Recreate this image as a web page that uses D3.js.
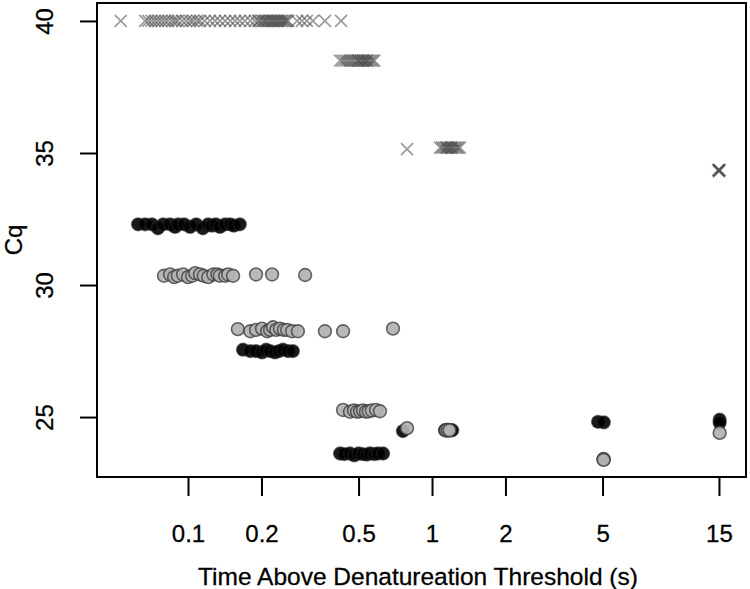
<!DOCTYPE html>
<html><head><meta charset="utf-8">
<script src="https://cdnjs.cloudflare.com/ajax/libs/d3/7.8.5/d3.min.js"></script>
<style>body{margin:0;background:#fff}svg{display:block}</style>
</head><body>
<svg id="c" width="750" height="589"></svg>
<script>
// ---- data ----
const crossTime = [0.053,0.0667,0.0687,0.0709,0.0732,0.0755,0.0779,0.0805,0.083,0.086,0.0885,0.0908,0.0946,0.0983,0.102,0.105,0.109,0.112,0.117,0.123,0.129,0.135,0.142,0.149,0.156,0.163,0.171,0.18,0.188,0.194,0.201,0.207,0.213,0.217,0.223,0.23,0.236,0.243,0.25,0.257,0.196,0.204,0.21,0.22,0.226,0.233,0.24,0.247,0.254,0.28,0.293,0.307,0.325,0.364,0.424,
  0.42,0.43,0.44,0.45,0.46,0.47,0.48,0.49,0.5,0.51,0.52,0.53,0.54,0.55,0.56,0.57,0.58,0.5,0.52,0.54,
  0.79,1.08,1.1,1.12,1.14,1.16,1.18,1.2,1.22,1.24,1.26,1.28,1.3,1.15,1.2,
  15,15,15.1,14.9,15];
const crossCq = [40,40,40,40,40,40,40,40,40,40,40,40,40,40,40,40,40,40,40,40,40,40,40,40,40,40,40,40,40,40,40,40,40,40,40,40,40,40,40,40,40,40,40,40,40,40,40,40,40,40,40,40,40,40,40,
  38.5,38.5,38.5,38.5,38.5,38.5,38.5,38.5,38.5,38.5,38.5,38.5,38.5,38.5,38.5,38.5,38.5,38.5,38.5,38.5,
  35.15,35.2,35.2,35.2,35.2,35.2,35.2,35.2,35.2,35.2,35.2,35.2,35.2,35.2,35.2,
  34.35,34.35,34.35,34.35,34.3];

const blackTime = [0.0624,0.0667,0.0711,0.0753,0.0791,0.0844,0.0885,0.091,0.0964,0.102,0.108,0.115,0.121,0.125,0.13,0.135,0.142,0.149,0.154,0.163,
  0.168,0.18,0.19,0.201,0.209,0.217,0.227,0.236,0.245,0.257,0.269,
  0.42,0.437,0.461,0.48,0.5,0.52,0.54,0.557,0.58,0.6,0.63,
  0.76,1.13,1.16,1.19,1.21,
  4.79,5.06,5.05,
  15.1,15.1];
const blackCq = [32.3,32.3,32.3,32.15,32.3,32.3,32.2,32.3,32.3,32.2,32.3,32.15,32.3,32.25,32.3,32.2,32.3,32.3,32.25,32.3,
  27.55,27.5,27.5,27.45,27.55,27.5,27.45,27.5,27.55,27.5,27.5,
  23.62,23.6,23.62,23.55,23.62,23.6,23.58,23.62,23.6,23.62,23.62,
  24.47,24.5,24.48,24.5,24.5,
  24.82,24.8,23.4,
  24.9,24.78];

const grayTime = [0.0797,0.0844,0.0877,0.0908,0.0955,0.1,0.104,0.107,0.112,0.116,0.121,0.127,0.132,0.135,0.142,0.146,0.153,0.19,0.221,0.302,
  0.16,0.18,0.19,0.201,0.211,0.217,0.223,0.23,0.238,0.247,0.255,0.267,0.282,0.364,0.432,0.692,
  0.432,0.461,0.479,0.493,0.507,0.521,0.536,0.55,0.567,0.59,0.612,
  0.79,1.14,1.16,1.18,
  5.05,5.05,
  15.1];
const grayCq = [30.35,30.4,30.3,30.35,30.4,30.3,30.35,30.45,30.4,30.35,30.3,30.4,30.4,30.35,30.35,30.4,30.35,30.4,30.4,30.38,
  28.33,28.25,28.3,28.35,28.25,28.3,28.4,28.3,28.35,28.3,28.3,28.25,28.25,28.25,28.25,28.35,
  25.27,25.2,25.25,25.2,25.22,25.25,25.2,25.22,25.25,25.27,25.22,
  24.58,24.5,24.52,24.5,
  23.41,23.38,
  24.4];

const xTicks = [0.1,0.2,0.5,1,2,5,15];
const xTickLabels = ["0.1","0.2","0.5","1","2","5","15"];
const yTicks = [25,30,35,40];

// ---- chart ----
const svg = d3.select("#c");
const L = 97, R = 746, T = 3, B = 477;
const x = d3.scaleLog().domain([0.04236, 19.36]).range([L, R]);
const y = d3.scaleLinear().domain([22.73, 40.68]).range([B, T]);
const font = "'Liberation Sans', Arial, Helvetica, sans-serif";

// crosses
const cs = 6;
const crosses = svg.append("g");
crossTime.forEach((t, i) => {
  const cx = x(t), cy = y(crossCq[i]);
  crosses.append("path")
    .attr("d", `M${cx-cs},${cy-cs}L${cx+cs},${cy+cs}M${cx-cs},${cy+cs}L${cx+cs},${cy-cs}`)
    .attr("stroke", "#4a4a4a").attr("stroke-opacity", 0.55).attr("stroke-width", 1.7).attr("fill", "none");
});

// black circles
svg.append("g").selectAll("circle").data(blackTime).join("circle")
  .attr("cx", d => x(d)).attr("cy", (d, i) => y(blackCq[i])).attr("r", 6.4)
  .attr("fill", "#000").attr("fill-opacity", 0.9)
  .attr("stroke", "#222").attr("stroke-opacity", 0.6).attr("stroke-width", 1.5);

// gray circles
svg.append("g").selectAll("circle").data(grayTime).join("circle")
  .attr("cx", d => x(d)).attr("cy", (d, i) => y(grayCq[i])).attr("r", 6.4)
  .attr("fill", "#b2b2b2").attr("fill-opacity", 0.92)
  .attr("stroke", "#3a3a3a").attr("stroke-opacity", 0.75).attr("stroke-width", 1.6);

// box
svg.append("rect").attr("x", L).attr("y", T).attr("width", R - L).attr("height", B - T)
  .attr("fill", "none").attr("stroke", "#000").attr("stroke-width", 2);

// x axis
const xa = svg.append("g").attr("transform", `translate(0,${B})`)
  .call(d3.axisBottom(x).tickValues(xTicks).tickSize(19).tickFormat((d, i) => xTickLabels[i]));
xa.select(".domain").remove();
xa.selectAll("line").attr("stroke", "#000").attr("stroke-width", 2);
xa.selectAll("text").attr("y", 65).attr("dy", 0).attr("fill", "#000")
  .attr("stroke", "#000").attr("stroke-width", 0.3)
  .style("font-family", font).style("font-size", "24px");

// y axis
const ya = svg.append("g").attr("transform", `translate(${L},0)`)
  .call(d3.axisLeft(y).tickValues(yTicks).tickSize(17).tickFormat(d3.format("d")));
ya.select(".domain").remove();
ya.selectAll("line").attr("stroke", "#000").attr("stroke-width", 2);
ya.selectAll("text").attr("transform", "rotate(-90)").attr("x", 0).attr("y", -44).attr("dy", 0)
  .attr("text-anchor", "middle").attr("fill", "#000")
  .attr("stroke", "#000").attr("stroke-width", 0.3)
  .style("font-family", font).style("font-size", "24px");

// titles
svg.append("text").attr("x", 418).attr("y", 585).attr("text-anchor", "middle")
  .attr("stroke", "#000").attr("stroke-width", 0.3)
  .style("font-family", font).style("font-size", "24.5px").text("Time Above Denatureation Threshold (s)");
svg.append("text").attr("transform", `translate(22,${(T + B) / 2}) rotate(-90)`).attr("text-anchor", "middle")
  .attr("stroke", "#000").attr("stroke-width", 0.3)
  .style("font-family", font).style("font-size", "24px").text("Cq");
</script>
</body></html>
